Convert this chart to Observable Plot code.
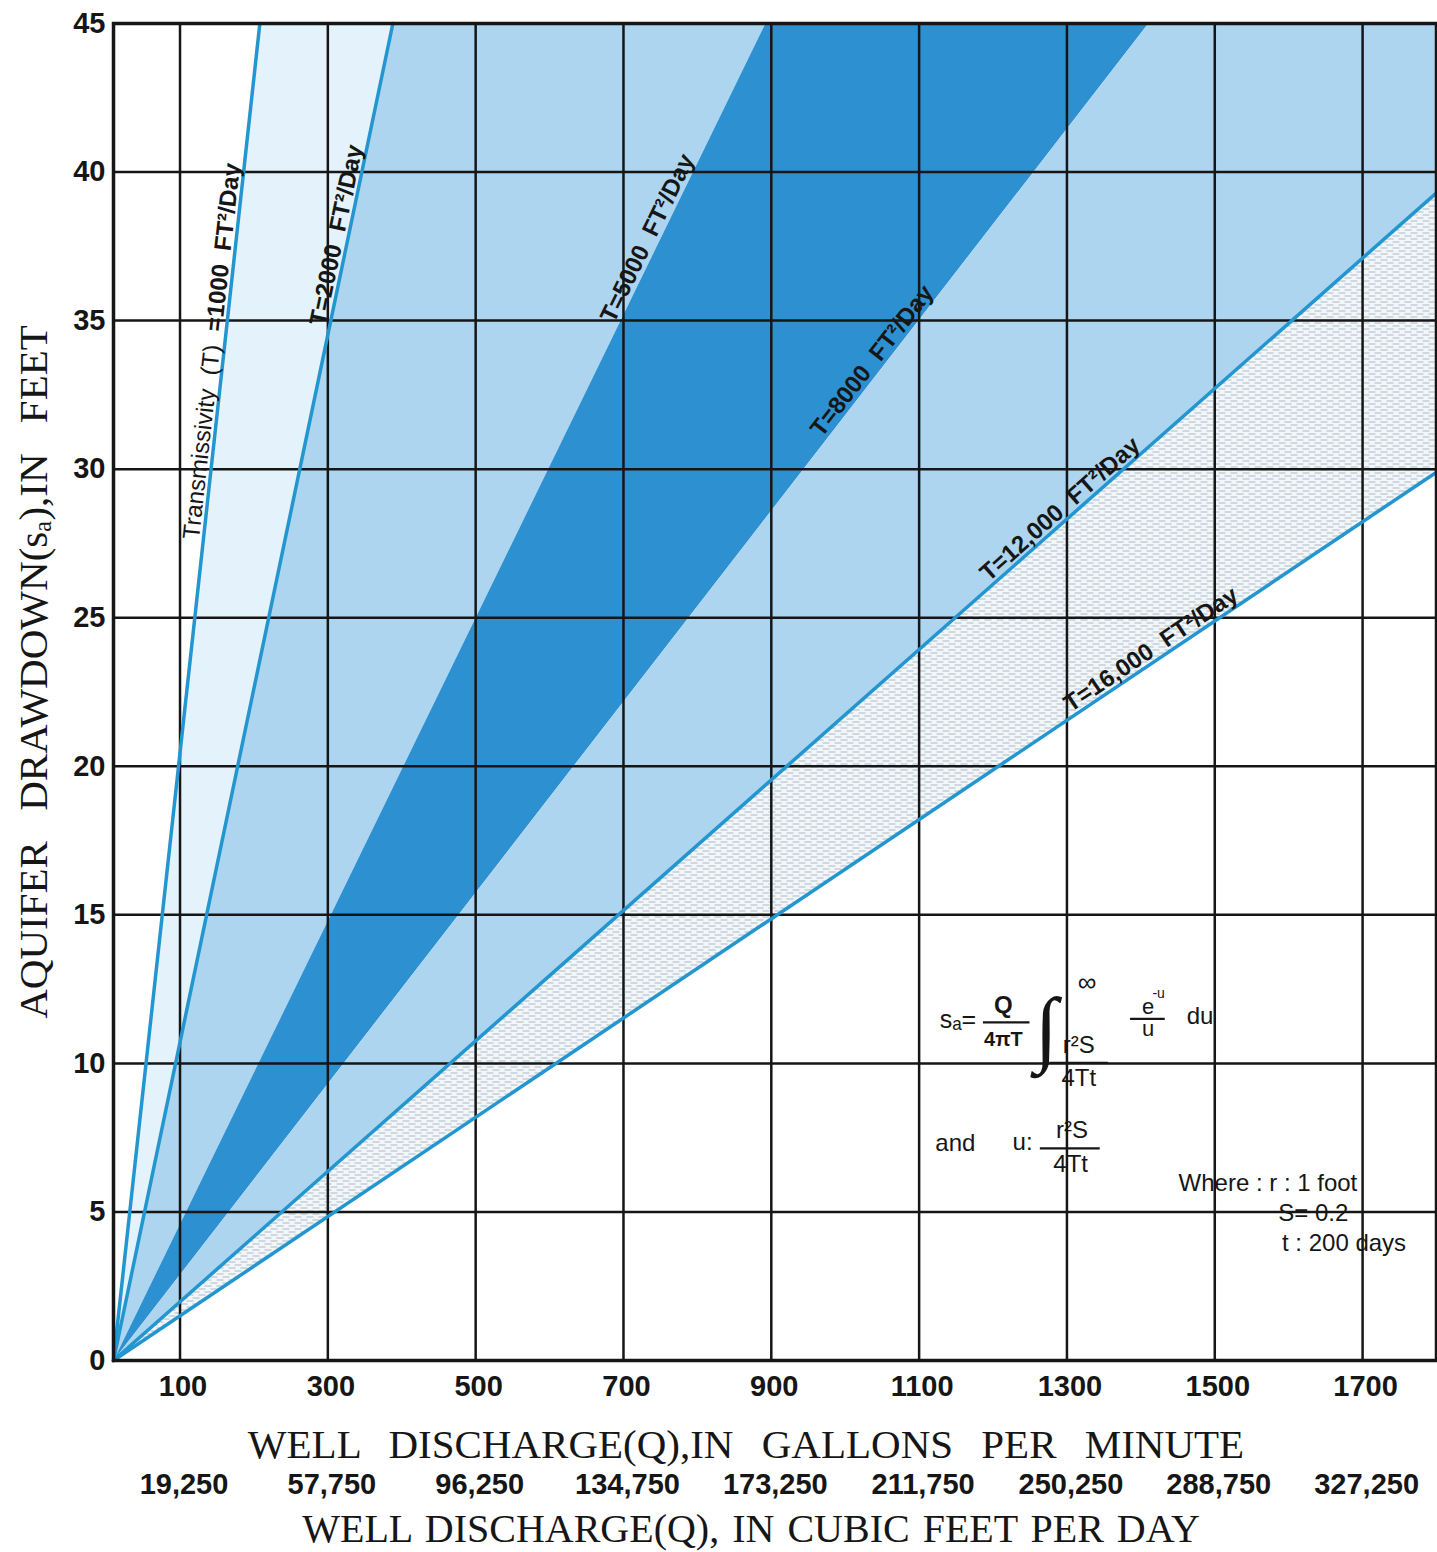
<!DOCTYPE html>
<html><head><meta charset="utf-8">
<script src="https://cdn.jsdelivr.net/npm/d3@7"></script>
<script src="https://cdn.jsdelivr.net/npm/@observablehq/plot@0.6"></script>
<style>
html,body{margin:0;padding:0;background:#fff;}
#chart svg{display:block;}
.title-wide{word-spacing:18px;}
.title-narrow{word-spacing:3px;}
.title-y{word-spacing:20px;}
.line-label{word-spacing:7px;}
</style></head><body><div id="chart"></div>
<script>
// ---------------- data ----------------
const transmissivity = [1000, 2000, 5000, 8000, 12000, 16000];
const lineNames = ["Transmissivity (T) =1000 FT²/Day", "T=2000 FT²/Day", "T=5000 FT²/Day", "T=8000 FT²/Day", "T=12,000 FT²/Day", "T=16,000 FT²/Day"];
const convergeQ = 10;                                  // gpm where all lines meet (zero drawdown)
const endQ = [208, 388, 892, 1410, 1800, 1800];        // gpm where each line leaves the grid
const endS = [45, 45, 45, 45, 39.3, 29.9];             // drawdown (ft) where each line leaves the grid
const labelAtS = [34.6, 37.8, 37.6, 33.4, 28.35, 23.6];// drawdown at the centre of each line label
const gpmTicks = [100, 300, 500, 700, 900, 1100, 1300, 1500, 1700];
const cfdTicks = ["19,250", "57,750", "96,250", "134,750", "173,250", "211,750", "250,250", "288,750", "327,250"];
const drawdownTicks = [0, 5, 10, 15, 20, 25, 30, 35, 40, 45];
const gpmDomain = [10, 1800];
const drawdownDomain = [0, 45];

// ---------------- layout ----------------
const W = 1437, H = 1552;
const mL = 113, mR = 1, mT = 23, mB = 192;
const kx = (W - mL - mR) / (gpmDomain[1] - gpmDomain[0]);
const ky = (H - mT - mB) / (drawdownDomain[1] - drawdownDomain[0]);
const SANS = "'Liberation Sans',Arial,Helvetica,sans-serif";
const SERIF = "'Liberation Serif','Times New Roman',serif";
const INK = "#161616";

// line geometry
const linePts = transmissivity.map((T, i) => [{q: convergeQ, s: 0}, {q: endQ[i], s: endS[i]}]);
function bandPolygon(a, b) {
  const pts = [{q: convergeQ, s: 0}, {q: endQ[a], s: endS[a]}];
  if (endS[a] === drawdownDomain[1] && endQ[b] === gpmDomain[1] && endS[b] < drawdownDomain[1])
    pts.push({q: gpmDomain[1], s: drawdownDomain[1]});
  pts.push({q: endQ[b], s: endS[b]});
  return pts;
}
const bandFills = ["#e4f2fb", "#add5ef", "#2d91d1", "#add5ef", "url(#hatch)"];
const darkEdges = [5000, 8000]; // edges of the dark band carry no separate line

const bandMarks = bandFills.map((f, i) =>
  Plot.line(bandPolygon(i, i + 1), {x: "q", y: "s", fill: f, stroke: "none", curve: "linear"}));
const lineMarks = transmissivity.map((T, i) => darkEdges.includes(T) ? null :
  Plot.line(linePts[i], {x: "q", y: "s", stroke: "#2396cf", strokeWidth: 3.5}));

const labelMarks = transmissivity.flatMap((T, i) => {
  const theta = Math.atan2(endS[i] * ky, (endQ[i] - convergeQ) * kx);
  const deg = theta * 180 / Math.PI;
  const d = 12;
  const q = convergeQ + (labelAtS[i] / endS[i]) * (endQ[i] - convergeQ);
  const base = {x: "q", y: "s", text: "t", rotate: -deg,
    dx: -d * Math.sin(theta), dy: -d * Math.cos(theta),
    fontSize: 24, fontFamily: SANS, fill: INK, className: "line-label"};
  const name = lineNames[i];
  const cut = name.indexOf(" =");
  if (cut > 0) {
    // descriptive part in regular weight, value part in bold, joined at the label point
    return [
      Plot.text([{q, s: labelAtS[i], t: name.slice(0, cut) + " "}], {...base, textAnchor: "end", fontWeight: "normal"}),
      Plot.text([{q, s: labelAtS[i], t: name.slice(cut + 1)}], {...base, textAnchor: "start", fontWeight: "bold"})
    ];
  }
  return [Plot.text([{q, s: labelAtS[i], t: name}], {...base, fontWeight: "bold"})];
});

// ---------------- formula annotation ----------------
const notes = [
  {q: 1128, s: 11.45, t: "sₐ=", size: 25, anchor: "start", weight: "normal"},
  {q: 1214, s: 11.95, t: "Q", size: 24, anchor: "middle", weight: "bold"},
  {q: 1214, s: 10.8, t: "4πT", size: 20, anchor: "middle", weight: "bold"},
  {q: 1272, s: 11.15, t: "∫", size: 84, anchor: "middle", weight: "normal"},
  {q: 1327, s: 12.7, t: "∞", size: 26, anchor: "middle", weight: "normal"},
  {q: 1316, s: 10.6, t: "r²S", size: 24, anchor: "middle", weight: "normal"},
  {q: 1316, s: 9.5, t: "4Tt", size: 24, anchor: "middle", weight: "normal"},
  {q: 1410, s: 11.9, t: "e", size: 22, anchor: "middle", weight: "normal"},
  {q: 1424, s: 12.35, t: "-u", size: 14, anchor: "middle", weight: "normal"},
  {q: 1410, s: 11.15, t: "u", size: 22, anchor: "middle", weight: "normal"},
  {q: 1480, s: 11.6, t: "du", size: 24, anchor: "middle", weight: "normal"},
  {q: 1149, s: 7.3, t: "and", size: 24, anchor: "middle", weight: "normal"},
  {q: 1240, s: 7.35, t: "u:", size: 24, anchor: "middle", weight: "normal"},
  {q: 1307, s: 7.75, t: "r²S", size: 24, anchor: "middle", weight: "normal"},
  {q: 1305, s: 6.62, t: "4Tt", size: 24, anchor: "middle", weight: "normal"},
  {q: 1451, s: 5.96, t: "Where : r : 1 foot", size: 24, anchor: "start", weight: "normal"},
  {q: 1586, s: 4.95, t: "S= 0.2", size: 24, anchor: "start", weight: "normal"},
  {q: 1591, s: 3.94, t: "t : 200 days", size: 24, anchor: "start", weight: "normal"}
];
const bars = [
  {s: 11.38, q1: 1187, q2: 1250},
  {s: 10.02, q1: 1277, q2: 1356},
  {s: 11.5, q1: 1386, q2: 1433},
  {s: 7.14, q1: 1264, q2: 1345}
];
const noteMarks = notes.map(n => Plot.text([n], {
  x: "q", y: "s", text: "t", fontSize: n.size, textAnchor: n.anchor, fontWeight: n.weight,
  fontFamily: n.t === "∫" ? SERIF : SANS, fill: INK
}));

const tickFont = {fontSize: 29, fontWeight: "bold", fontFamily: SANS};

const chart = Plot.plot({
  width: W, height: H,
  marginLeft: mL, marginRight: mR, marginTop: mT, marginBottom: mB,
  x: {domain: gpmDomain},
  y: {domain: drawdownDomain},
  style: {background: "#fff", overflow: "visible"},
  marks: [
    ...bandMarks,
    Plot.gridX(gpmTicks, {stroke: INK, strokeOpacity: 1, strokeWidth: 2.5}),
    Plot.gridY(drawdownTicks.filter(d => d > 0), {stroke: INK, strokeOpacity: 1, strokeWidth: 2.5}),
    ...lineMarks.filter(Boolean),
    Plot.frame({stroke: INK, strokeWidth: 3.5}),
    Plot.axisY(drawdownTicks, {anchor: "left", tickSize: 0, tickPadding: 8, tickFormat: d => `${d}`, ...tickFont, color: INK, label: null}),
    Plot.axisX(gpmTicks, {anchor: "bottom", tickSize: 0, tickPadding: 15, dx: 3, tickFormat: d => `${d}`, ...tickFont, color: INK, label: null}),
    Plot.text(gpmTicks, {x: d => d, text: (d, i) => cfdTicks[i], frameAnchor: "bottom", lineAnchor: "middle", dy: 124, dx: 4, ...tickFont, fill: INK}),
    Plot.text(["WELL DISCHARGE(Q),IN GALLONS PER MINUTE"], {text: d => d, frameAnchor: "bottom", lineAnchor: "middle", textAnchor: "middle", dy: 84, dx: -29, fontSize: 41, fontFamily: SERIF, fill: INK, className: "title-wide"}),
    Plot.text(["WELL DISCHARGE(Q), IN CUBIC FEET PER DAY"], {text: d => d, frameAnchor: "bottom", lineAnchor: "middle", textAnchor: "middle", dy: 169, dx: -24, fontSize: 40, fontFamily: SERIF, fill: INK, className: "title-narrow"}),
    Plot.text(["AQUIFER DRAWDOWN(sₐ),IN FEET"], {text: d => d, frameAnchor: "left", lineAnchor: "middle", textAnchor: "middle", rotate: -90, dx: -80, dy: -20, fontSize: 41, fontFamily: SERIF, fill: INK, className: "title-y"}),
    ...labelMarks,
    Plot.ruleY(bars, {y: "s", x1: "q1", x2: "q2", stroke: INK, strokeWidth: 2.2}),
    ...noteMarks
  ]
});

// hatch pattern for the 12,000 – 16,000 band
d3.select(chart).insert("defs", ":first-child").html(
  `<pattern id="hatch" patternUnits="userSpaceOnUse" width="12" height="6">
     <rect width="12" height="6" fill="#f2f6f9"/>
     <path d="M0,1.5h7M6,4.5h6M0,4.5h1" stroke="#a2b2bf" stroke-width="0.9" fill="none"/>
   </pattern>`);
document.getElementById("chart").appendChild(chart);
</script></body></html>
